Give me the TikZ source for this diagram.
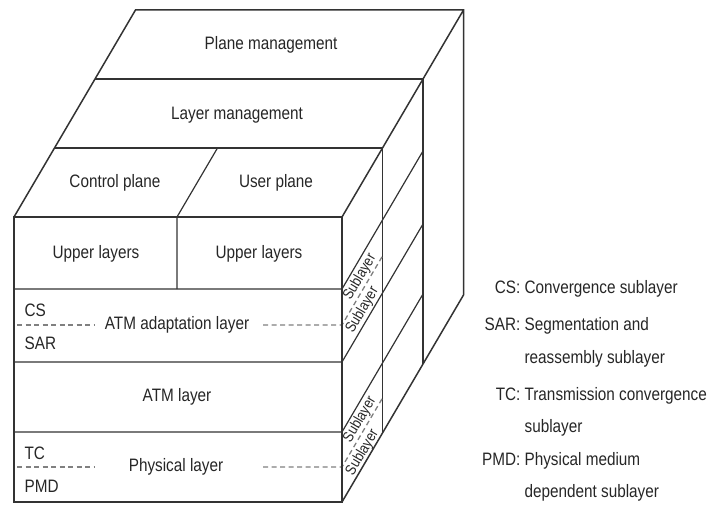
\documentclass[tikz,border=0pt]{standalone}
\usepackage{fontspec}
\setmainfont{Liberation Sans}[FakeStretch=0.85]
\usetikzlibrary{calc}

\begin{document}
\begin{tikzpicture}[x=1pt,y=-1pt,line width=1.2pt,black!80,
		lbl/.style={font=\fontsize{18}{20}\selectfont,text=black!85,inner sep=0pt},
		sublbl/.style={lbl,font=\fontsize{15}{16}\selectfont,rotate=59.6},
		subdash/.style={gray,dash pattern=on 5pt off 3.5pt,line width=1.3pt}]
	\useasboundingbox (0,0) rectangle (711,510);
	\coordinate (d) at (40.5,-69);
	\coordinate (fnw) at (14,217);
	\coordinate (fne) at (342,217);
	\coordinate (fse) at (342,502);
	\coordinate (fsw) at (14,502);
	\coordinate (bnw) at ($(fnw)+3*(d)$);
	\coordinate (bne) at ($(fne)+3*(d)$);
	\coordinate (bse) at ($(fse)+3*(d)$);
	\foreach \k in {1,2}{
		\draw ($(fnw)+\k*(d)$) -- ($(fne)+\k*(d)$);
		\draw ($(fne)+\k*(d)$) -- ($(fse)+\k*(d)$);
	};
	\foreach \y in {289,362,432}{
		\draw (14,\y) -- (342,\y) -- ++($2*(d)$);
	};
	\draw (177,289) -- (177,217) -- ++(d);
	\foreach \y in {325,467}{
		\draw[subdash] (17,\y) -- (95,\y);
		\draw[subdash] (263,\y) -- (342,\y) -- ++(d);
	};
	\draw[line width=1.7pt] (fsw) rectangle (fne);
	\draw[line width=1.5pt] (fnw) -- (bnw) -- (bne) -- (bse) -- (fse) (fne) -- (bne);
	\node[lbl] (pm) at (271,45) {Plane management};
	\node[lbl] (lm) at (237,115) {Layer management};
	\node[lbl] (cp) at (115,183) {Control plane};
	\node[lbl] (up) at (276,183) {User plane};
	\node[lbl] (ulc) at (96,254) {Upper layers};
	\node[lbl] (ulu) at (259,254) {Upper layers};
	\node[lbl] (aal) at (177,325) {ATM adaptation layer};
	\node[lbl] (atm) at (177,397) {ATM layer};
	\node[lbl] (phy) at (176,467) {Physical layer};
	\foreach \ab/\yy in {CS/310,SAR/343,TC/453,PMD/486}{
		\node[lbl,anchor=west] (side\ab) at (24,\yy) {\ab};
	};
	\foreach \yy [count=\i] in {277,419.5}{
		\node[sublbl] (sub\i a) at (360,\yy) {Sublayer};
		\node[sublbl] (sub\i b) at (362.5,\yy+33) {Sublayer};
	};
	\foreach \ab/\yy [count=\i] in {CS:/293,SAR:/330,TC:/400,PMD:/465}
		\node[lbl,anchor=base east] (ab\i) at (521,\yy) {\ab};
	\foreach \tx/\yy [count=\i] in {Convergence sublayer/293,Segmentation and/330,reassembly sublayer/363,Transmission convergence/400,sublayer/432,Physical medium/465,dependent sublayer/497}
		\node[lbl,anchor=base west] (tx\i) at (524,\yy) {\tx};
\end{tikzpicture}
\end{document}
